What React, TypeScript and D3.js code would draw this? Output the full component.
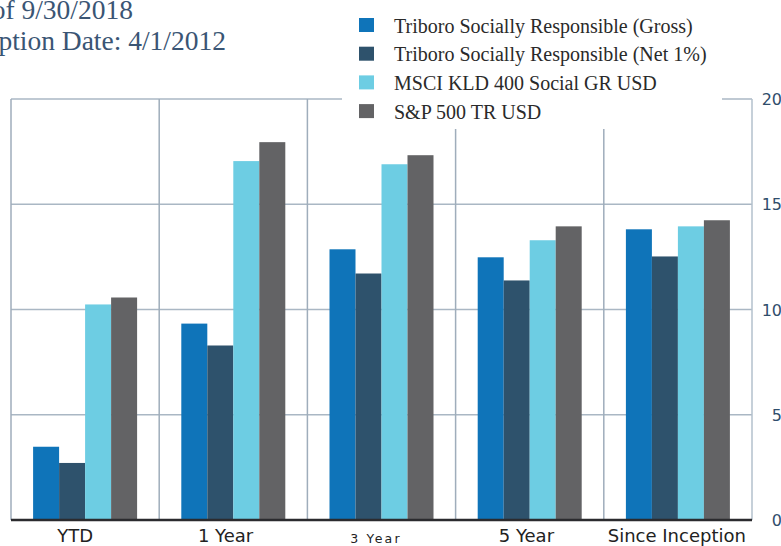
import * as d3 from 'd3';

const WIDTH = 781;
const HEIGHT = 546;
const MARGINS = { top: 99, right: 29, bottom: 26, left: 11 };

const categories = ['YTD', '1 Year', '3 Year', '5 Year', 'Since Inception'];
const seriesNames = [
  'Triboro Socially Responsible (Gross)',
  'Triboro Socially Responsible (Net 1%)',
  'MSCI KLD 400 Social GR USD',
  'S&P 500 TR USD',
];
const seriesColors = ['#0f74b9', '#2e526c', '#6dcde3', '#636365'];

// returns (%) per category, one array per series
const gross = [3.48, 9.33, 12.86, 12.48, 13.81];
const net = [2.71, 8.29, 11.71, 11.38, 12.52];
const msci = [10.24, 17.05, 16.9, 13.29, 13.95];
const sp500 = [10.57, 17.95, 17.33, 13.95, 14.24];
const seriesValues = [gross, net, msci, sp500];

const yTicks = [0, 5, 10, 15, 20];
const titleLines = ['as of 9/30/2018', 'Inception Date: 4/1/2012'];

const GRID = '#9fadbb';
const AXIS_TEXT = '#2f4d6b';

export default function App() {
  const plotRight = WIDTH - MARGINS.right;
  const plotBottom = HEIGHT - MARGINS.bottom;

  const x0 = d3.scaleBand<string>().domain(categories).range([MARGINS.left, plotRight]);
  const x1 = d3
    .scaleBand<string>()
    .domain(seriesNames)
    .range([0, x0.bandwidth()])
    .paddingOuter(0.85);
  // category labels sit on a slightly wider band than the bars
  const xLabel = d3.scaleBand<string>().domain(categories).range([0, plotRight]);
  const y = d3.scaleLinear().domain([0, 20]).range([plotBottom, MARGINS.top]);

  return (
    <svg
      width={WIDTH}
      height={HEIGHT}
      style={{ position: 'absolute', left: 0, top: 0, background: '#fff' }}
    >
      {/* horizontal gridlines */}
      {yTicks.map((t) => (
        <line
          key={`h${t}`}
          x1={MARGINS.left}
          x2={plotRight}
          y1={y(t)}
          y2={y(t)}
          stroke="#aab7c4"
          strokeWidth={1.5}
        />
      ))}
      {/* vertical gridlines */}
      {categories.map((c) => (
        <line
          key={`v${c}`}
          x1={x0(c)}
          x2={x0(c)}
          y1={y(20)}
          y2={plotBottom}
          stroke={GRID}
          strokeWidth={1.5}
        />
      ))}
      <line x1={plotRight} x2={plotRight} y1={y(20)} y2={plotBottom} stroke="#b3c0cc" strokeWidth={1.5} />

      {/* bars */}
      {categories.map((c, ci) => (
        <g key={c} transform={`translate(${x0(c)},0)`}>
          {seriesNames.map((s, si) => (
            <rect
              key={s}
              x={x1(s)}
              y={y(seriesValues[si][ci])}
              width={x1.bandwidth()}
              height={plotBottom - y(seriesValues[si][ci])}
              fill={seriesColors[si]}
            />
          ))}
        </g>
      ))}

      {/* baseline */}
      <line x1={MARGINS.left} x2={plotRight} y1={plotBottom} y2={plotBottom} stroke="#2b2b2e" strokeWidth={2.5} />

      {/* category labels */}
      {categories.map((c) => {
        const small = c === '3 Year';
        return (
          <text
            key={`l${c}`}
            x={(xLabel(c) ?? 0) + xLabel.bandwidth() / 2}
            y={small ? 543 : 542}
            textAnchor="middle"
            fontFamily="DejaVu Sans, sans-serif"
            fontSize={small ? 12.5 : 18}
            letterSpacing={small ? 2.2 : 0}
            fill="#222"
          >
            {c}
          </text>
        );
      })}

      {/* right axis labels */}
      {yTicks.map((t) => (
        <text
          key={`t${t}`}
          x={782}
          y={y(t)}
          dy="0.38em"
          textAnchor="end"
          fontFamily="DejaVu Sans, sans-serif"
          fontSize={16}
          fill={AXIS_TEXT}
        >
          {t}
        </text>
      ))}

      {/* legend */}
      <rect x={342} y={0} width={380} height={129} fill="#fff" />
      {seriesNames.map((s, i) => (
        <g key={`lg${s}`} transform={`translate(359,${18 + i * 28.7})`}>
          <rect width={15} height={14} fill={seriesColors[i]} />
          <text
            x={35}
            y={14.5}
            fontFamily="Liberation Serif, serif"
            fontSize={20}
            fill="#2a2a2a"
          >
            {s}
          </text>
        </g>
      ))}

      {/* title */}
      {titleLines.map((line, i) => (
        <text
          key={line}
          x={i === 0 ? 133 : 226}
          y={19 + i * 31}
          textAnchor="end"
          fontFamily="Liberation Serif, serif"
          fontSize={27.5}
          fill="#3a5574"
        >
          {line}
        </text>
      ))}
    </svg>
  );
}
